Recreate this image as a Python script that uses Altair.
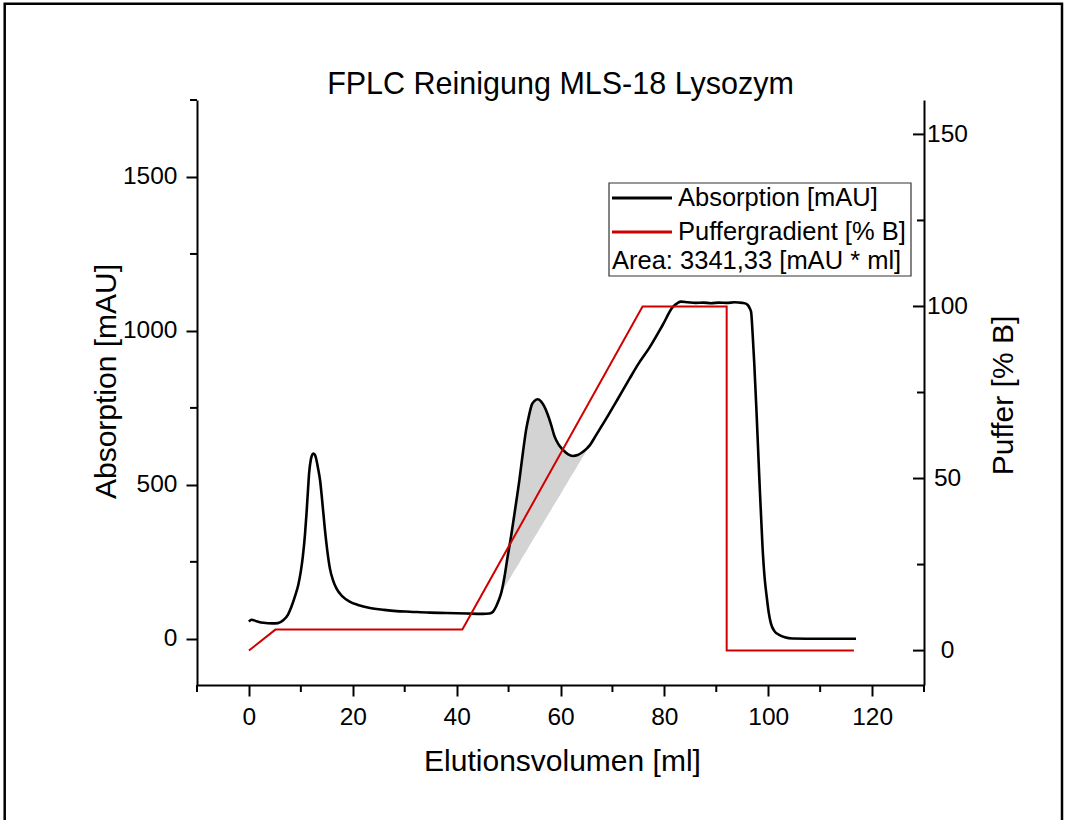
import altair as alt
import pandas as pd

# ---------------- data ----------------
ABS_X = [0.0, 0.5, 1.5, 2.8, 4.5, 5.6, 6.6, 7.5, 8.2, 9.0, 9.5, 10.0, 10.4, 10.8, 11.1, 11.4,
         11.6, 11.9, 12.1, 12.4, 12.7, 12.9, 13.3, 13.7, 14.1, 14.6, 15.1, 15.6, 16.2, 16.9,
         18.0, 19.4, 21.0, 23.3, 26.0, 28.4, 31.0, 34.8, 38.0, 42.0, 45.0, 46.3, 47.0, 47.6,
         48.1, 48.6, 49.2, 49.8, 50.5, 51.3, 52.1, 52.8, 53.4, 54.0, 54.4, 55.0, 55.6, 56.2,
         56.8, 57.5, 58.2, 58.8, 59.5, 60.4, 61.4, 62.4, 63.3, 64.2, 65.0, 65.7, 66.8, 68.8,
         71.0, 73.3, 75.0, 77.1, 79.7, 81.6, 82.6, 83.2, 84.5, 86.0, 87.5, 89.0, 90.5, 92.0,
         93.5, 95.0, 95.8, 96.0, 96.4, 96.7, 97.0, 97.3, 97.75, 98.3, 98.9, 99.3, 99.7, 100.1,
         100.5, 101.2, 102.1, 103.2, 104.7, 110.0, 116.9]
ABS_Y = [56, 62, 57, 52, 50, 51, 60, 78, 105, 145, 175, 220, 270, 340, 410, 490,
         540, 580, 594, 602, 598, 588, 555, 515, 450, 360, 285, 228, 190, 162,
         138, 121, 110, 100, 94, 90, 88, 85, 84, 82, 81, 82, 88, 105,
         125, 150, 200, 265, 335, 425, 518, 610, 681, 730, 757, 773, 778, 772,
         757, 730, 695, 660, 635, 615, 600, 594, 597, 606, 617, 630, 660, 715,
         778, 845, 893, 945, 1020, 1077, 1091, 1095, 1093, 1091, 1092, 1090, 1092, 1091,
         1093, 1091, 1088, 1085, 1075, 1062, 990, 899, 736, 518, 300, 200, 138, 85,
         51, 25, 13, 5, 1, 0, 0]

PUF_X = [0.0, 5.1, 41.1, 75.8, 92.0, 92.0, 116.5]
PUF_Y = [0.0, 6.1, 6.1, 100.0, 100.0, 0.0, 0.0]

BASE_X = [48.6, 65.7]      # integration baseline end points (ml)
BASE_Y = [150, 630]        # integration baseline end points (mAU)

TITLE = "FPLC Reinigung MLS-18 Lysozym"
X_TITLE = "Elutionsvolumen [ml]"
YL_TITLE = "Absorption [mAU]"
YR_TITLE = "Puffer [% B]"
LEGEND_LABELS = ["Absorption [mAU]", "Puffergradient [% B]"]
AREA_LABEL = "Area: 3341,33 [mAU * ml]"

X_MAJOR = [0, 20, 40, 60, 80, 100, 120]
X_MINOR = [-10, 10, 30, 50, 70, 90, 110, 130]
YL_MAJOR = [0, 500, 1000, 1500]
YL_MINOR = [250, 750, 1250, 1750]
YR_MAJOR = [0, 50, 100, 150]
YR_MINOR = [25, 75, 125]

# ---------------- styling ----------------
W, H = 727, 585
FONT = "Liberation Sans"
RED = "#d00000"
BLACK = "#000000"
SHADE = "#d3d3d3"
MAJ, MIN = 11, 7

abs_df = pd.DataFrame({"x": ABS_X, "y": ABS_Y, "i": list(range(len(ABS_X)))})
puf_df = pd.DataFrame({"x": PUF_X, "y": PUF_Y, "i": list(range(len(PUF_X)))})
shade_df = abs_df[(abs_df.x >= BASE_X[0]) & (abs_df.x <= BASE_X[1])].reset_index(drop=True)

xscale = alt.Scale(domain=[-10, 130], nice=False, zero=False)
ylscale = alt.Scale(domain=[-150, 1750], nice=False, zero=False)
yrscale = alt.Scale(domain=[-10, 160], nice=False, zero=False)

x_axis = alt.Axis(values=X_MAJOR, format="d", tickSize=MAJ, labelPadding=9, title=X_TITLE,
                  titleX=365, titleY=85, titleBaseline="alphabetic", titleAlign="center")
yl_axis = alt.Axis(values=YL_MAJOR, format="d", tickSize=MAJ, labelPadding=9, orient="left",
                   title=YL_TITLE, titleAngle=270, titleX=-82, titleY=281,
                   titleBaseline="alphabetic", titleAlign="center")
yr_axis = alt.Axis(values=YR_MAJOR, format="d", ticks=False, tickSize=0, labelPadding=23,
                   labelAlign="center", orient="right", title=YR_TITLE, titleAngle=270,
                   titleX=88, titleY=295, titleBaseline="alphabetic", titleAlign="center")

X = lambda f: alt.X(f, scale=xscale, axis=x_axis)
YL = lambda f: alt.Y(f, scale=ylscale, axis=yl_axis)
YR = lambda f: alt.Y(f, scale=yrscale, axis=yr_axis)

# --- left (absorption) group ---
shade = alt.Chart(shade_df).transform_calculate(
    base=f"{BASE_Y[0]} + (datum.x - {BASE_X[0]}) * ({BASE_Y[1]} - {BASE_Y[0]}) / ({BASE_X[1]} - {BASE_X[0]})"
).mark_area(color=SHADE, opacity=1, interpolate="monotone").encode(
    x=X("x:Q"),
    y=YL("y:Q"),
    y2="base:Q",
)
curve = alt.Chart(abs_df).mark_line(color=BLACK, strokeWidth=2.6, interpolate="monotone").encode(
    x=X("x:Q"),
    y=YL("y:Q"),
    order="i:Q",
)
yl_minor = alt.Chart(pd.DataFrame({"v": YL_MINOR})).mark_rule(color=BLACK, strokeWidth=2).encode(
    y=YL("v:Q"),
    x=alt.value(-MIN), x2=alt.value(0),
)
x_minor = alt.Chart(pd.DataFrame({"v": X_MINOR})).mark_rule(color=BLACK, strokeWidth=2).encode(
    x=X("v:Q"),
    y=alt.value(H), y2=alt.value(H + MIN),
)
left = alt.layer(shade, curve, yl_minor, x_minor)

# --- right (buffer) group ---
puf = alt.Chart(puf_df).mark_line(color=RED, strokeWidth=2).encode(
    x=X("x:Q"),
    y=YR("y:Q"),
    order="i:Q",
)
yr_maj = alt.Chart(pd.DataFrame({"v": YR_MAJOR})).mark_rule(color=BLACK, strokeWidth=2).encode(
    y=YR("v:Q"),
    x=alt.value(W - MAJ), x2=alt.value(W),
)
yr_min = alt.Chart(pd.DataFrame({"v": YR_MINOR})).mark_rule(color=BLACK, strokeWidth=2).encode(
    y=YR("v:Q"),
    x=alt.value(W - MIN), x2=alt.value(W),
)
right = alt.layer(puf, yr_maj, yr_min)

# --- legend (drawn) ---
one = alt.Data(values=[{}])
leg_box = alt.Chart(one).mark_rect(fill="white", stroke="#333333", strokeWidth=1.2).encode(
    x=alt.value(412), x2=alt.value(714), y=alt.value(83), y2=alt.value(176))
leg_l1 = alt.Chart(one).mark_rule(color=BLACK, strokeWidth=3).encode(
    x=alt.value(415), x2=alt.value(475), y=alt.value(98))
leg_l2 = alt.Chart(one).mark_rule(color=RED, strokeWidth=3).encode(
    x=alt.value(415), x2=alt.value(475), y=alt.value(132))
txt = dict(font=FONT, fontSize=25.5, align="left", baseline="middle", color=BLACK)
leg_t1 = alt.Chart(one).mark_text(**txt).encode(
    x=alt.value(481), y=alt.value(98), text=alt.value(LEGEND_LABELS[0]))
leg_t2 = alt.Chart(one).mark_text(**txt).encode(
    x=alt.value(481), y=alt.value(132), text=alt.value(LEGEND_LABELS[1]))
leg_t3 = alt.Chart(one).mark_text(**txt).encode(
    x=alt.value(415), y=alt.value(161), text=alt.value(AREA_LABEL))

FRAME_TOP = 3.8 - 100
frame = alt.Chart(one).mark_rect(filled=False, stroke=BLACK, strokeWidth=2.5).encode(
    x=alt.value(4.7 - 197), x2=alt.value(1062 - 197), y=alt.value(FRAME_TOP), y2=alt.value(840 - 100))

# Vega places the title relative to the content bounds (top = outer frame);
# shift it down so its baseline sits ~7 px above the plot area.
TITLE_DY = 122

chart = alt.layer(left, right, leg_box, leg_l1, leg_l2, leg_t1, leg_t2, leg_t3, frame).resolve_scale(
    y="independent"
).properties(
    width=W, height=H,
    title=alt.TitleParams(TITLE, font=FONT, fontSize=30.5, fontWeight="normal", color=BLACK,
                          anchor="middle", baseline="alphabetic", offset=0, dy=TITLE_DY,
                          frame="group"),
    autosize=alt.AutoSizeParams(type="none"),
    padding={"left": 197, "top": 100, "right": 143, "bottom": 135},
).configure(
    background="white",
).configure_view(
    stroke=None,
).configure_axis(
    grid=False, domainColor=BLACK, domainWidth=2, tickColor=BLACK, tickWidth=2,
    labelFont=FONT, labelFontSize=24.5, labelColor=BLACK, labelOverlap=False, labelFlush=False,
    titleFont=FONT, titleFontSize=30, titleFontWeight="normal", titleColor=BLACK,
)

chart.save("out.html", embed_options={"renderer": "svg", "actions": False})
